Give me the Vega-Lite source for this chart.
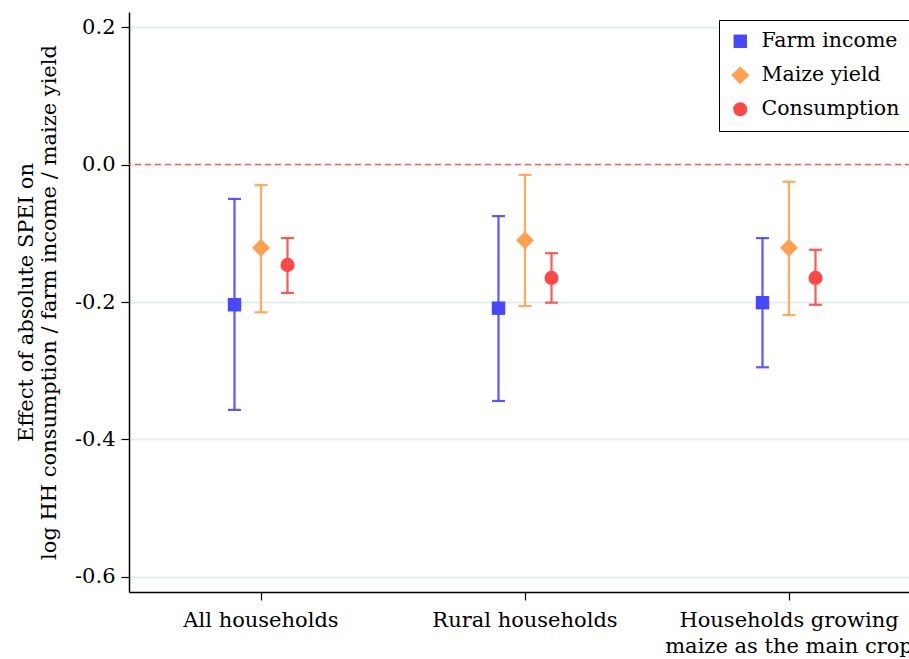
{
  "$schema": "https://vega.github.io/schema/vega-lite/v6.json",
  "autosize": "none",
  "padding": {"left": 129, "top": 12, "right": 0, "bottom": 67},
  "width": 792,
  "height": 580,
  "background": "white",
  "config": {
    "font": "DejaVu Serif",
    "view": {"stroke": null},
    "axis": {"labelFont": "DejaVu Serif", "titleFont": "DejaVu Serif", "domainColor": "#000000", "tickColor": "#000000", "labelColor": "#000000", "titleColor": "#000000", "domainWidth": 1.5, "tickWidth": 1.2},
    "legend": {"labelFont": "DejaVu Serif", "labelFontSize": 20.5, "labelColor": "#000000", "strokeColor": "#000000", "fillColor": "#ffffff", "padding": 11, "rowPadding": 13, "labelOffset": 11}
  },
  "datasets": {
    "est": [
      {"group": "All households", "measure": "Farm income", "est": -0.204, "lo": -0.357, "hi": -0.050},
      {"group": "All households", "measure": "Maize yield", "est": -0.121, "lo": -0.215, "hi": -0.030},
      {"group": "All households", "measure": "Consumption", "est": -0.146, "lo": -0.187, "hi": -0.107},
      {"group": "Rural households", "measure": "Farm income", "est": -0.209, "lo": -0.344, "hi": -0.075},
      {"group": "Rural households", "measure": "Maize yield", "est": -0.110, "lo": -0.206, "hi": -0.015},
      {"group": "Rural households", "measure": "Consumption", "est": -0.165, "lo": -0.201, "hi": -0.129},
      {"group": "Households growing maize as the main crop", "measure": "Farm income", "est": -0.201, "lo": -0.295, "hi": -0.107},
      {"group": "Households growing maize as the main crop", "measure": "Maize yield", "est": -0.121, "lo": -0.219, "hi": -0.025},
      {"group": "Households growing maize as the main crop", "measure": "Consumption", "est": -0.165, "lo": -0.204, "hi": -0.124}
    ],
    "zero": [{"v": 0}]
  },
  "layer": [
    {
      "data": {"name": "est"},
      "mark": {"type": "rule", "strokeWidth": 2.2, "opacity": 0.9},
      "encoding": {
        "x": {
          "field": "group", "type": "nominal", "sort": null,
          "scale": {"paddingInner": 0, "paddingOuter": 0},
          "axis": {
            "title": null, "labelAngle": 0, "labelFontSize": 21, "labelPadding": 9, "tickSize": 8,
            "labelLineHeight": 26, "labelBaseline": "top", "labelLimit": 0,
            "labelExpr": "datum.label == 'Households growing maize as the main crop' ? ['Households growing', 'maize as the main crop'] : datum.label"
          }
        },
        "xOffset": {
          "field": "measure", "type": "nominal",
          "scale": {"domain": ["Farm income", "Maize yield", "Consumption"], "type": "point", "padding": 0, "range": [105.5, 158.5]}
        },
        "y": {
          "field": "lo", "type": "quantitative",
          "scale": {"domain": [-0.622, 0.222], "nice": false, "zero": false},
          "axis": {
            "values": [0.2, 0, -0.2, -0.4, -0.6],
            "labelExpr": "datum.value < 0 ? '-' + format(-datum.value, '.1f') : format(datum.value, '.1f')",
            "labelFontSize": 21, "tickSize": 8, "labelPadding": 6,
            "grid": true, "gridColor": "#e3efef", "gridWidth": 2,
            "title": ["Effect of absolute SPEI on", "log HH consumption / farm income / maize yield"],
            "titleFontSize": 21, "titleFontWeight": "normal", "titlePadding": 15, "titleLineHeight": 23
          }
        },
        "y2": {"field": "hi"},
        "stroke": {
          "field": "measure", "type": "nominal", "legend": null,
          "scale": {"domain": ["Consumption", "Farm income", "Maize yield"], "range": ["#ff4747", "#4747ff", "#ffa24f"]}
        }
      }
    },
    {
      "data": {"name": "zero"},
      "mark": {"type": "rule", "color": "#e06666", "strokeDash": [6, 4], "strokeWidth": 1.6},
      "encoding": {"y": {"field": "v", "type": "quantitative"}}
    },
    {
      "data": {"name": "est"},
      "mark": {"type": "tick", "thickness": 2.2, "size": 13, "opacity": 0.9, "orient": "horizontal"},
      "encoding": {
        "x": {"field": "group", "type": "nominal", "sort": null},
        "xOffset": {"field": "measure", "type": "nominal"},
        "y": {"field": "lo", "type": "quantitative"},
        "fill": {
          "field": "measure", "type": "nominal", "legend": null,
          "scale": {"domain": ["Consumption", "Farm income", "Maize yield"], "range": ["#ff4747", "#4747ff", "#ffa24f"]}
        }
      }
    },
    {
      "data": {"name": "est"},
      "mark": {"type": "tick", "thickness": 2.2, "size": 13, "opacity": 0.9, "orient": "horizontal"},
      "encoding": {
        "x": {"field": "group", "type": "nominal", "sort": null},
        "xOffset": {"field": "measure", "type": "nominal"},
        "y": {"field": "hi", "type": "quantitative"},
        "fill": {"field": "measure", "type": "nominal", "legend": null}
      }
    },
    {
      "data": {"name": "est"},
      "mark": {"type": "point", "filled": true, "opacity": 1},
      "encoding": {
        "x": {"field": "group", "type": "nominal", "sort": null},
        "xOffset": {"field": "measure", "type": "nominal"},
        "y": {"field": "est", "type": "quantitative"},
        "size": {
          "field": "measure", "type": "nominal",
          "scale": {"type": "ordinal", "domain": ["Farm income", "Maize yield", "Consumption"], "range": [180, 324, 200]},
          "legend": {"title": null, "orient": "none", "legendX": 590, "legendY": 8}
        },
        "color": {
          "field": "measure", "type": "nominal",
          "scale": {"domain": ["Farm income", "Maize yield", "Consumption"], "range": ["#4747ff", "#ffa24f", "#ff4747"]},
          "legend": {"title": null, "orient": "none", "legendX": 590, "legendY": 8}
        },
        "shape": {
          "field": "measure", "type": "nominal",
          "scale": {"domain": ["Farm income", "Maize yield", "Consumption"], "range": ["square", "diamond", "circle"]},
          "legend": {"title": null, "orient": "none", "legendX": 590, "legendY": 8}
        }
      }
    }
  ]
}
